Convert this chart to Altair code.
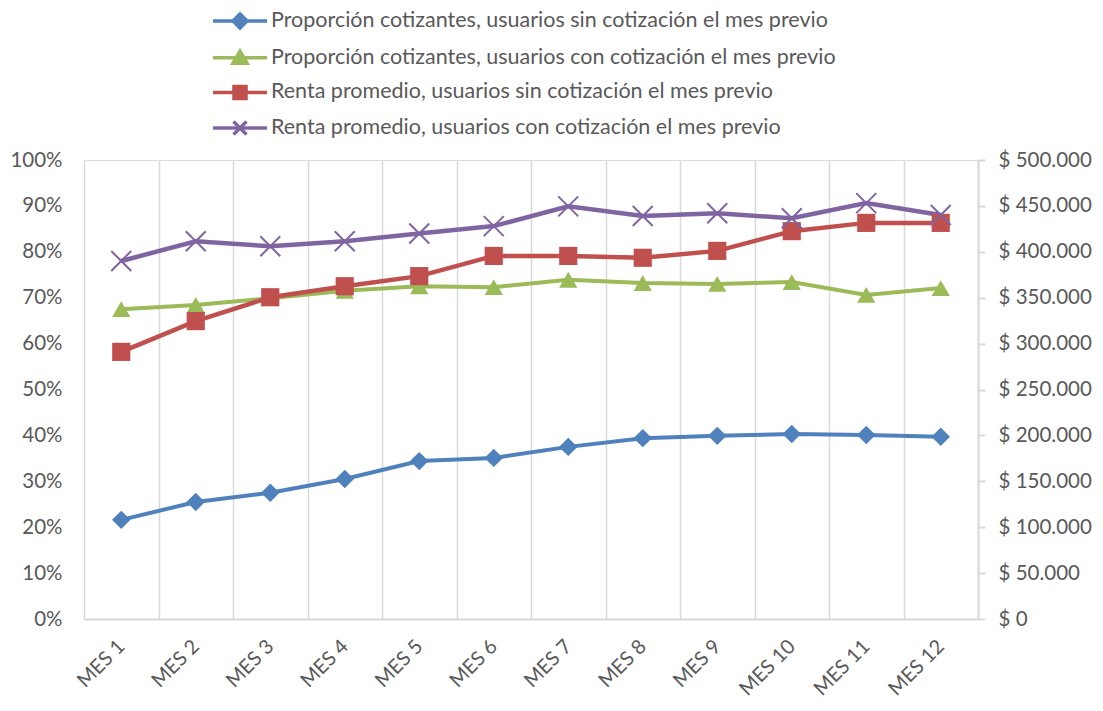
import altair as alt
import pandas as pd

months = ["MES 1", "MES 2", "MES 3", "MES 4", "MES 5", "MES 6",
          "MES 7", "MES 8", "MES 9", "MES 10", "MES 11", "MES 12"]

s_blue = "Proporción cotizantes, usuarios sin cotización el mes previo"
s_green = "Proporción cotizantes, usuarios con cotización el mes previo"
s_red = "Renta promedio, usuarios sin cotización el mes previo"
s_purple = "Renta promedio, usuarios con cotización el mes previo"
series = [s_blue, s_green, s_red, s_purple]
colors = ["#4f81bd", "#9bbb59", "#c0504d", "#8064a2"]

prop_sin = [0.216, 0.255, 0.275, 0.305, 0.344, 0.351, 0.375, 0.394, 0.399, 0.403, 0.401, 0.397]
prop_con = [0.675, 0.684, 0.699, 0.715, 0.725, 0.723, 0.739, 0.732, 0.730, 0.734, 0.706, 0.721]
renta_sin = [291000, 324500, 350500, 362500, 373500, 395500, 395500, 393500, 401000, 422500, 431500, 431500]
renta_con = [390000, 411500, 406000, 411500, 420000, 428000, 449500, 439000, 442000, 436500, 453000, 440000]

left_df = pd.DataFrame({
    "mes": months * 2,
    "serie": [s_blue] * 12 + [s_green] * 12,
    "valor": prop_sin + prop_con,
})
red_df = pd.DataFrame({"mes": months, "serie": [s_red] * 12, "valor": renta_sin})
purple_df = pd.DataFrame({"mes": months, "serie": [s_purple] * 12, "valor": renta_con})
right_df = pd.concat([red_df, purple_df])

FONT = "Lato"
TXT = "#595959"
GRID = "#d9d9d9"

x_path = "M-1,-1L1,1M-1,1L1,-1"

# legend symbols: line + marker
leg_line = "M-2.7,0L2.7,0"
leg_shapes = {
    s_blue: leg_line + "M0,-0.7L0.7,0L0,0.7L-0.7,0Z",
    s_green: leg_line + "M0,-0.65L0.7,0.55L-0.7,0.55Z",
    s_red: leg_line + "M-0.6,-0.6L0.6,-0.6L0.6,0.6L-0.6,0.6Z",
    s_purple: leg_line + "M-0.65,-0.65L0.65,0.65M-0.65,0.65L0.65,-0.65",
}
shape_expr = ""
for s in series[:-1]:
    shape_expr += "datum.value === '%s' ? '%s' : " % (s, leg_shapes[s])
shape_expr += "'%s'" % leg_shapes[series[-1]]

x_enc = alt.X(
    "mes:N", sort=months,
    scale=alt.Scale(type="band", paddingInner=0, paddingOuter=0),
    axis=alt.Axis(title=None, tickBand="extent", grid=True, gridColor=GRID, gridWidth=1.5,
                  ticks=False, domainColor=GRID, domainWidth=2, labelAngle=315,
                  labelAlign="right", labelBaseline="middle", labelPadding=24,
                  labelFont=FONT, labelFontSize=20, labelColor=TXT),
)

color_enc = alt.Color(
    "serie:N",
    scale=alt.Scale(domain=series, range=colors),
    legend=alt.Legend(
        title=None, orient="none", legendX=144, legendY=-151, direction="vertical",
        symbolSize=400, labelOffset=19, labelFont=FONT, labelFontSize=21.5, labelColor=TXT,
        labelLimit=1000, rowPadding=8.7, padding=0,
        symbolType={"expr": shape_expr}, symbolStrokeWidth=3.5, symbolOpacity=1,
    ),
)

shape_enc = alt.Shape(
    "serie:N",
    scale=alt.Scale(domain=[s_blue, s_green, s_red], range=["diamond", "triangle-up", "square"]),
    legend=None,
)
size_enc = alt.Size(
    "serie:N",
    scale=alt.Scale(domain=[s_blue, s_green, s_red], range=[340, 330, 290]),
    legend=None,
)

y_left = alt.Y(
    "valor:Q", scale=alt.Scale(domain=[0, 1]),
    axis=alt.Axis(orient="left", title=None, values=[i / 10 for i in range(11)], format=".0%",
                  domain=False, ticks=False, grid=False, labelPadding=22,
                  labelFont=FONT, labelFontSize=20.5, labelColor=TXT),
)
y_right = alt.Y(
    "valor:Q", scale=alt.Scale(domain=[0, 500000]),
    axis=alt.Axis(orient="right", title=None, values=list(range(0, 500001, 50000)),
                  labelExpr="'$ ' + replace(format(datum.value, ',d'), regexp(',', 'g'), '.')",
                  domain=True, domainColor=GRID, domainWidth=2, ticks=True, tickColor=GRID,
                  tickWidth=2, tickSize=7, grid=False, labelPadding=13,
                  labelFont=FONT, labelFontSize=20.5, labelColor=TXT),
)

left_base = alt.Chart(left_df).encode(x=x_enc, y=y_left, color=color_enc)
left_layer = alt.layer(
    left_base.mark_line(strokeWidth=4),
    left_base.mark_point(filled=True, opacity=1).encode(shape=shape_enc, size=size_enc),
)

right_base = alt.Chart(right_df).encode(x=x_enc, y=y_right, color=color_enc)
red_base = alt.Chart(red_df).encode(x=x_enc, y=y_right, color=color_enc)
purple_base = alt.Chart(purple_df).encode(x=x_enc, y=y_right, color=color_enc)
right_layer = alt.layer(
    right_base.mark_line(strokeWidth=4.5),
    red_base.mark_point(filled=True, opacity=1).encode(shape=shape_enc, size=size_enc),
    purple_base.mark_point(filled=False, opacity=1, size=400, strokeWidth=2, shape=x_path),
)

chart = alt.layer(left_layer, right_layer).resolve_scale(y="independent").properties(
    width=894, height=459,
    padding={"left": 76, "top": 152, "right": 117, "bottom": 84},
    autosize=alt.AutoSizeParams(type="none"),
).configure_view(stroke=None).configure(background="white")

chart.save("out.html", embed_options={"renderer": "svg", "actions": False})
